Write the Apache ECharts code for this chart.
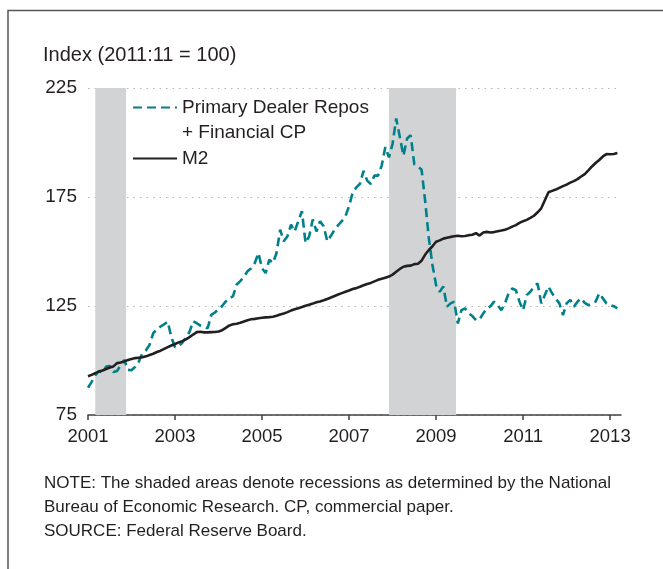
<!DOCTYPE html>
<html><head><meta charset="utf-8">
<script src="https://cdn.jsdelivr.net/npm/echarts@6/dist/echarts.min.js"></script>
<style>html,body{margin:0;padding:0;background:#fff}#c{width:663px;height:569px}</style>
</head><body><div id="c"></div>
<script>
// Monthly data, 2001:01 - 2013:03
const startYear = 2001;
const m2 = [
  92.8, 93.4, 94.2, 94.9, 95.4, 96.1, 96.8, 97.3, 98.8, 99.1, 99.6, 100.2,
  100.7, 101.1, 101.3, 101.5, 101.9, 102.5, 103.1, 103.9, 104.5, 105.3, 106.1, 106.9,
  107.6, 108.3, 108.9, 109.7, 110.7, 111.9, 113.0, 113.2, 112.9, 112.9, 113.0, 113.1,
  113.3, 113.9, 115.0, 116.1, 116.6, 116.9, 117.3, 117.9, 118.5, 118.9, 119.1, 119.4,
  119.6, 119.8, 119.9, 120.1, 120.5, 121.1, 121.6, 122.2, 122.9, 123.5, 124.0, 124.5,
  125.1, 125.6, 126.1, 126.7, 127.1, 127.6, 128.2, 128.9, 129.6, 130.3, 130.9, 131.5,
  132.1, 132.8, 133.2, 133.8, 134.5, 135.1, 135.6, 136.3, 137.0, 137.5, 138.0, 138.5,
  139.4, 140.7, 142.0, 143.0, 143.4, 143.5, 144.2, 144.4, 145.8, 148.6, 150.7, 152.4,
  154.5, 155.1, 155.9, 156.3, 156.7, 157.0, 157.2, 157.0, 157.1, 157.5, 157.7, 158.4,
  157.3, 158.7, 159.0, 158.7, 158.9, 159.3, 159.6, 160.0, 160.6, 161.4, 162.1, 163.1,
  163.9, 164.5, 165.4, 166.4, 168.0, 169.8, 173.5, 177.2, 177.8, 178.4, 179.2, 180.0,
  180.7, 181.6, 182.3, 183.2, 184.4, 185.5, 187.2, 189.0, 190.6, 192.0, 193.6, 194.7,
  194.6, 194.7, 195.2
];
const repos = [
  87.5, 90.2, 93.2, 95.2, 94.2, 97.2, 97.5, 94.7, 95.2, 97.7, 100.2, 95.7,
  95.5, 97.1, 99.4, 103.4, 104.7, 107.2, 112.6, 114.1, 115.6, 116.6, 117.8, 110.6,
  106.1, 106.6, 108.1, 110.6, 113.1, 118.0, 117.1, 116.0, 115.5, 114.8, 120.9, 122.0,
  123.5, 125.0, 127.1, 128.5, 129.5, 134.9, 136.4, 138.4, 140.9, 142.3, 144.7, 149.3,
  142.3, 140.1, 146.3, 144.7, 149.3, 160.0, 154.7, 157.0, 162.3, 159.2, 163.9, 168.5,
  153.9, 157.0, 164.7, 159.2, 163.9, 161.6, 154.7, 157.2, 160.0, 162.1, 163.9, 166.2,
  170.8, 177.1, 179.4, 181.0, 187.0, 182.5, 181.0, 184.8, 184.8, 189.4, 197.9, 193.2,
  199.4, 211.0, 202.5, 194.0, 201.8, 203.3, 190.0, 189.0, 187.5, 173.0, 156.1, 143.8,
  134.6, 131.5, 133.9, 124.7, 126.2, 127.0, 117.0, 123.1, 123.9, 121.6, 120.4, 118.5,
  118.9, 121.6, 123.9, 124.9, 127.0, 125.4, 123.1, 126.2, 130.8, 133.0, 132.3, 127.0,
  123.1, 130.0, 131.5, 133.9, 135.3, 126.2, 130.0, 133.9, 130.8, 128.4, 126.2, 120.8,
  126.2, 127.8, 124.7, 127.0, 128.5, 126.4, 125.4, 126.2, 127.0, 130.8, 128.5, 126.2,
  125.4, 124.9, 123.9
];
const recessions = [[2001.167, 2001.875], [2007.917, 2009.458]];
const xTicks = [2001, 2003, 2005, 2007, 2009, 2011, 2013];
const seriesNames = ['Primary Dealer Repos\n+ Financial CP', 'M2'];
const noteLines = [
  'NOTE: The shaded areas denote recessions as determined by the National',
  'Bureau of Economic Research. CP, commercial paper.',
  'SOURCE: Federal Reserve Board.'
];

const toPairs = arr => arr.map((v, i) => [startYear + i / 12, v]);
const FONT = "'Liberation Sans', Arial, sans-serif";
const TXT = '#231f20';
const TEAL = '#00808a';

const chart = echarts.init(document.getElementById('c'), null, {renderer: 'canvas'});
chart.setOption({
  animation: false,
  backgroundColor: '#fff',
  textStyle: {fontFamily: FONT, color: TXT},
  title: {
    text: 'Index (2011:11 = 100)', left: 43, top: 45, padding: 0,
    textStyle: {fontFamily: FONT, fontSize: 20, fontWeight: 'normal', color: TXT}
  },
  legend: [{
    data: [seriesNames[0]], left: 132, top: 70, orient: 'vertical', padding: 0,
    itemWidth: 44, itemHeight: 14, itemStyle: {opacity: 0},
    formatter: name => '\n' + name,
    textStyle: {fontFamily: FONT, fontSize: 19, color: TXT, lineHeight: 25}
  }, {
    data: [seriesNames[1]], left: 132, top: 149, orient: 'vertical', padding: 0,
    itemWidth: 44, itemHeight: 14, itemStyle: {opacity: 0},
    textStyle: {fontFamily: FONT, fontSize: 19, color: TXT}
  }],
  grid: {left: 88, right: 42, top: 88, bottom: 154},
  xAxis: {
    type: 'value', min: 2001, max: 2013.25,
    axisLine: {lineStyle: {color: '#404040', width: 1.5}},
    axisTick: {customValues: xTicks, length: 5, lineStyle: {color: '#404040', width: 1.5}},
    axisLabel: {customValues: xTicks, fontFamily: FONT, fontSize: 18.5, color: TXT, margin: 12,
      formatter: v => String(Math.round(v))},
    splitLine: {show: false}
  },
  yAxis: {
    type: 'value', min: 75, max: 225, interval: 50,
    axisLine: {show: false}, axisTick: {show: false},
    axisLabel: {fontFamily: FONT, fontSize: 19, color: TXT, margin: 11},
    splitLine: {lineStyle: {color: '#b4b4b4', width: 1.2, type: [1.5, 5]}}
  },
  series: [{
    name: 'Recessions', type: 'line', data: [], silent: true,
    markArea: {silent: true, itemStyle: {color: '#d1d3d4'},
      data: recessions.map(r => [{xAxis: r[0]}, {xAxis: r[1]}])}
  }, {
    name: seriesNames[0], type: 'line', data: toPairs(repos), symbol: 'none',
    lineStyle: {color: TEAL, width: 2.6, type: [9, 5]}, itemStyle: {color: TEAL}
  }, {
    name: seriesNames[1], type: 'line', data: toPairs(m2), symbol: 'none',
    lineStyle: {color: TXT, width: 2.6}, itemStyle: {color: TXT}
  }],
  graphic: [{
    type: 'polyline', silent: true,
    shape: {points: [[670, 10.5], [8, 10.5], [8, 580]]},
    style: {stroke: '#555', lineWidth: 1.5, fill: null}
  }].concat(noteLines.map((t, i) => ({
    type: 'text', left: 44, top: 475 + i * 24, silent: true,
    style: {text: t, fontFamily: FONT, fontSize: 17, fill: TXT}
  })))
});
</script></body></html>
